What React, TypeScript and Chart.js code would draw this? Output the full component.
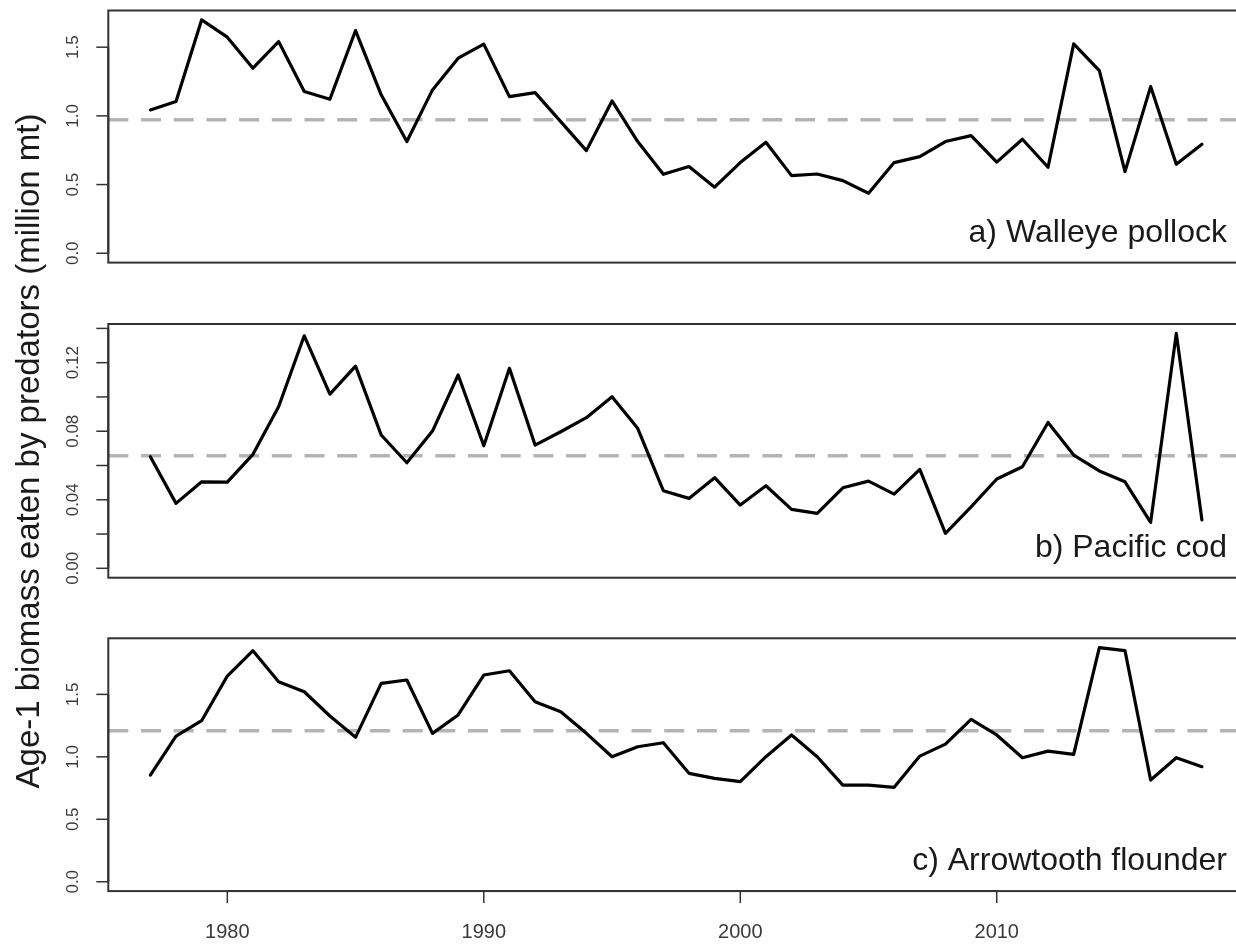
import React, { useEffect, useRef } from "react";
import { Chart, registerables } from "chart.js";

Chart.register(...registerables);

// ---------- data ----------
const years = [
  1977, 1978, 1979, 1980, 1981, 1982, 1983, 1984, 1985, 1986, 1987, 1988, 1989, 1990,
  1991, 1992, 1993, 1994, 1995, 1996, 1997, 1998, 1999, 2000, 2001, 2002, 2003, 2004,
  2005, 2006, 2007, 2008, 2009, 2010, 2011, 2012, 2013, 2014, 2015, 2016, 2017, 2018,
];

const pollock = [
  1.043, 1.104, 1.699, 1.573, 1.347, 1.541, 1.177, 1.121, 1.621, 1.153, 0.813, 1.189, 1.42, 1.522,
  1.14, 1.169, 0.958, 0.747, 1.109, 0.813, 0.575, 0.631, 0.481, 0.66, 0.808, 0.565, 0.577, 0.529,
  0.437, 0.66, 0.703, 0.813, 0.856, 0.663, 0.83, 0.626, 1.524, 1.33, 0.594, 1.213, 0.648, 0.794,
];

const cod = [
  0.0651, 0.0379, 0.0505, 0.0503, 0.0665, 0.0943, 0.1357, 0.1017, 0.118, 0.0778, 0.0616, 0.0801,
  0.1128, 0.0715, 0.1167, 0.0719, 0.0797, 0.0879, 0.1001, 0.0817, 0.0453, 0.0408, 0.0529, 0.0369,
  0.0482, 0.0344, 0.0321, 0.047, 0.0509, 0.0433, 0.0577, 0.0204, 0.0359, 0.0521, 0.0593, 0.0851,
  0.0661, 0.0568, 0.0505, 0.0268, 0.1371, 0.0282,
];

const arrowtooth = [
  0.854, 1.166, 1.289, 1.647, 1.85, 1.601, 1.521, 1.327, 1.156, 1.588, 1.615, 1.188, 1.335, 1.655,
  1.689, 1.441, 1.361, 1.188, 1.001, 1.081, 1.113, 0.868, 0.828, 0.801, 1.001, 1.175, 1.001, 0.774,
  0.774, 0.756, 1.006, 1.102, 1.3, 1.175, 0.993, 1.046, 1.02, 1.874, 1.85, 0.814, 0.993, 0.921,
];

const meanValues = [0.971, 0.0657, 1.209];

const yTicksPollock = [0, 0.5, 1.0, 1.5];
const yLabelsPollock = ["0.0", "0.5", "1.0", "1.5"];
const yTicksCod = [0, 0.02, 0.04, 0.06, 0.08, 0.1, 0.12, 0.14];
const yLabelsCod = ["0.00", "", "0.04", "", "0.08", "", "0.12", ""];
const yTicksArrow = [0, 0.5, 1.0, 1.5];
const yLabelsArrow = ["0.0", "0.5", "1.0", "1.5"];

const xTicks = [1980, 1990, 2000, 2010];
const xLabels = ["1980", "1990", "2000", "2010"];

const panelTitles = ["a) Walleye pollock", "b) Pacific cod", "c) Arrowtooth flounder"];
const yTitle = "Age-1 biomass eaten by predators (million mt)";

// ---------- layout / style ----------
const FONT = '"Liberation Sans", Arial, Helvetica, sans-serif';
const CANVAS_W = 1246;
const CANVAS_H = 945;

const xPad = 0.04 * (years[years.length - 1] - years[0]);
const X_MIN = years[0] - xPad;
const X_MAX = years[years.length - 1] + xPad;

type Panel = {
  values: number[];
  mean: number;
  ticks: number[];
  labels: string[];
  title: string;
  top: number;
  bottom: number;
  showX: boolean;
  drawYTitle: boolean;
};

const panels: Panel[] = [
  { values: pollock, mean: meanValues[0], ticks: yTicksPollock, labels: yLabelsPollock, title: panelTitles[0], top: 10.5, bottom: 262.6, showX: false, drawYTitle: false },
  { values: cod, mean: meanValues[1], ticks: yTicksCod, labels: yLabelsCod, title: panelTitles[1], top: 324, bottom: 577.7, showX: false, drawYTitle: false },
  { values: arrowtooth, mean: meanValues[2], ticks: yTicksArrow, labels: yLabelsArrow, title: panelTitles[2], top: 638.3, bottom: 891.1, showX: true, drawYTitle: true },
];

const rStylePlugin = {
  id: "rStyle",
  afterDatasetsDraw(chart: any, _args: any, opts: any) {
    const { ctx, chartArea: ca, scales } = chart;
    const ys = scales.y;
    const xs = scales.x;
    ctx.save();

    // box
    ctx.strokeStyle = "#333";
    ctx.lineWidth = 2;
    ctx.strokeRect(ca.left, ca.top, ca.right - ca.left, ca.bottom - ca.top);

    // y axis line between first and last tick
    const t0 = ys.getPixelForValue(opts.ticks[0]);
    const t1 = ys.getPixelForValue(opts.ticks[opts.ticks.length - 1]);
    ctx.beginPath();
    ctx.moveTo(ca.left, t0);
    ctx.lineTo(ca.left, t1);
    ctx.stroke();

    // y ticks + labels
    ctx.lineWidth = 1.5;
    ctx.fillStyle = "#3a3a3a";
    ctx.font = `17px ${FONT}`;
    opts.ticks.forEach((v: number, i: number) => {
      const py = ys.getPixelForValue(v);
      ctx.beginPath();
      ctx.moveTo(ca.left - 12, py);
      ctx.lineTo(ca.left, py);
      ctx.stroke();
      const lab = opts.labels[i];
      if (lab) {
        ctx.save();
        ctx.translate(ca.left - 30.3, py);
        ctx.rotate(-Math.PI / 2);
        ctx.textAlign = "center";
        ctx.textBaseline = "alphabetic";
        ctx.fillText(lab, 0, 0);
        ctx.restore();
      }
    });

    // x axis
    if (opts.showX) {
      const p0 = xs.getPixelForValue(xTicks[0]);
      const p1 = xs.getPixelForValue(xTicks[xTicks.length - 1]);
      ctx.lineWidth = 2;
      ctx.beginPath();
      ctx.moveTo(p0, ca.bottom);
      ctx.lineTo(p1, ca.bottom);
      ctx.stroke();
      ctx.lineWidth = 1.5;
      ctx.font = `20px ${FONT}`;
      ctx.textAlign = "center";
      ctx.textBaseline = "alphabetic";
      xTicks.forEach((v, i) => {
        const px = xs.getPixelForValue(v);
        ctx.beginPath();
        ctx.moveTo(px, ca.bottom);
        ctx.lineTo(px, ca.bottom + 12);
        ctx.stroke();
        ctx.fillText(xLabels[i], px, ca.bottom + 47);
      });
    }

    // panel label
    ctx.fillStyle = "#1a1a1a";
    ctx.font = `32px ${FONT}`;
    ctx.textAlign = "right";
    ctx.textBaseline = "alphabetic";
    ctx.fillText(opts.title, 1227, ca.bottom - 21);

    // shared y title
    if (opts.drawYTitle) {
      ctx.save();
      ctx.translate(39, 451);
      ctx.rotate(-Math.PI / 2);
      ctx.font = `33px ${FONT}`;
      ctx.textAlign = "center";
      ctx.textBaseline = "alphabetic";
      ctx.fillStyle = "#1a1a1a";
      ctx.fillText(yTitle, 0, 0);
      ctx.restore();
    }

    ctx.restore();
  },
};

function makeConfig(p: Panel): any {
  const vMax = Math.max(...p.values);
  return {
    type: "line",
    data: {
      datasets: [
        {
          data: years.map((yr, i) => ({ x: yr, y: p.values[i] })),
          borderColor: "#000",
          borderWidth: 3.2,
          pointRadius: 0,
          tension: 0,
          borderJoinStyle: "round",
          borderCapStyle: "round",
          fill: false,
        },
        {
          data: [
            { x: X_MIN, y: p.mean },
            { x: X_MAX, y: p.mean },
          ],
          borderColor: "#b4b4b4",
          borderWidth: 3.5,
          borderDash: [20, 12.7],
          pointRadius: 0,
          fill: false,
        },
      ],
    },
    options: {
      animation: false,
      responsive: false,
      devicePixelRatio: 1,
      events: [],
      layout: {
        padding: { left: 108.3, right: CANVAS_W - 1244, top: p.top, bottom: CANVAS_H - p.bottom },
      },
      plugins: {
        legend: { display: false },
        tooltip: { enabled: false },
        rStyle: {
          ticks: p.ticks,
          labels: p.labels,
          title: p.title,
          showX: p.showX,
          drawYTitle: p.drawYTitle,
        },
      },
      scales: {
        x: { type: "linear", min: X_MIN, max: X_MAX, display: false },
        y: { type: "linear", min: -0.04 * vMax, max: 1.04 * vMax, display: false },
      },
    },
    plugins: [rStylePlugin],
  };
}

export default function App() {
  const r0 = useRef<HTMLCanvasElement>(null);
  const r1 = useRef<HTMLCanvasElement>(null);
  const r2 = useRef<HTMLCanvasElement>(null);
  const refs = [r0, r1, r2];

  useEffect(() => {
    const charts = panels.map((p, i) => new Chart(refs[i].current as HTMLCanvasElement, makeConfig(p)));
    return () => charts.forEach((c) => c.destroy());
  }, []);

  return (
    <div
      style={{
        position: "absolute",
        left: 0,
        top: 0,
        width: 1236,
        height: 945,
        overflow: "hidden",
        background: "#fff",
      }}
    >
      {panels.map((_, i) => (
        <canvas
          key={i}
          ref={refs[i]}
          width={CANVAS_W}
          height={CANVAS_H}
          style={{ position: "absolute", left: 0, top: 0, width: CANVAS_W, height: CANVAS_H }}
        />
      ))}
    </div>
  );
}
